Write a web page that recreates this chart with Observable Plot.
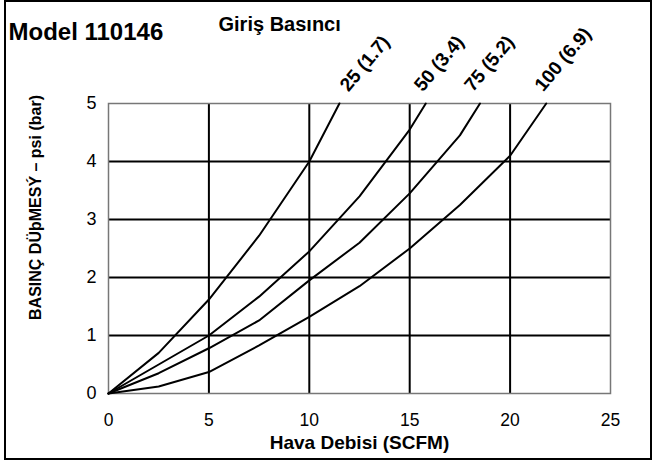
<!DOCTYPE html>
<html><head><meta charset="utf-8">
<script src="https://cdn.jsdelivr.net/npm/d3@7"></script>
<script src="https://cdn.jsdelivr.net/npm/@observablehq/plot@0.6"></script>
<style>
body{margin:0;background:#fff;}
#wrap{position:relative;width:655px;height:463px;}
#chart svg{display:block; font-family:"Liberation Sans", Arial, Helvetica, sans-serif;}
#border{position:absolute;left:4px;top:0;width:648px;height:460px;box-sizing:border-box;border:2.5px solid #000;pointer-events:none;}
</style></head><body><div id="wrap"><div id="chart"></div><div id="border"></div></div>
<script>
const seriesNames = ["25 (1.7)", "50 (3.4)", "75 (5.2)", "100 (6.9)"];
const flow25 = [0, 2.5, 5, 7.5, 10, 11.5];
const drop25 = [0, 0.7, 1.62, 2.72, 4.0, 5.0];
const flow50 = [0, 2.5, 5, 7.5, 10, 12.5, 15, 15.8];
const drop50 = [0, 0.5, 1.0, 1.67, 2.45, 3.4, 4.55, 5.0];
const flow75 = [0, 2.5, 5, 7.5, 10, 12.5, 15, 17.5, 18.5];
const drop75 = [0, 0.35, 0.78, 1.26, 1.95, 2.6, 3.45, 4.45, 5.0];
const flow100 = [0, 2.5, 5, 7.5, 10, 12.5, 15, 17.5, 20, 21.8];
const drop100 = [0, 0.12, 0.37, 0.83, 1.32, 1.85, 2.5, 3.25, 4.1, 5.0];
const labelX = [11.95, 15.65, 18.15, 21.65];
const xTicks = [0, 5, 10, 15, 20, 25];
const yTicks = [0, 1, 2, 3, 4, 5];
const xGrid = [5, 10, 15, 20];
const yGrid = [1, 2, 3, 4];
const titleText = "Model 110146";
const legendTitle = "Giriş Basıncı";
const xTitle = "Hava Debisi (SCFM)";
const yTitle = "BASINÇ DÜþMESÝ – psi (bar)";

const flows = [flow25, flow50, flow75, flow100];
const drops = [drop25, drop50, drop75, drop100];
const rows = [];
seriesNames.forEach((s, i) => flows[i].forEach((f, j) => rows.push({series: s, flow: f, drop: drops[i][j]})));
const labels = seriesNames.map((s, i) => ({series: s, x: labelX[i], y: 5}));

const font = "Liberation Sans, Arial, Helvetica, sans-serif";
const chart = Plot.plot({
  width: 655, height: 463,
  marginLeft: 108, marginRight: 45, marginTop: 103, marginBottom: 70,
  style: {fontFamily: font, background: "#fff", color: "#000"},
  x: {domain: [0, 25]},
  y: {domain: [0, 5]},
  marks: [
    Plot.ruleX(xGrid, {stroke: "#000", strokeWidth: 2}),
    Plot.ruleY(yGrid, {stroke: "#000", strokeWidth: 2}),
    Plot.frame({stroke: "#777", strokeWidth: 1.5}),
    Plot.line(rows, {x: "flow", y: "drop", z: "series", stroke: "#000", strokeWidth: 2}),
    Plot.text(labels, {x: "x", y: "y", text: "series", rotate: -50, textAnchor: "start", lineAnchor: "bottom", dy: -11, fontWeight: "bold", fontSize: 19, fill: "#000"}),
    Plot.axisX(xTicks, {tickSize: 0, tickPadding: 20, fontSize: 17.5, label: null, tickFormat: d => String(d)}),
    Plot.axisY(yTicks, {tickSize: 0, tickPadding: 12, fontSize: 18, label: null, tickFormat: d => String(d)}),
    Plot.text([xTitle], {frameAnchor: "bottom", textAnchor: "middle", lineAnchor: "middle", dx: 0, dy: 49, fontWeight: "bold", fontSize: 19, fill: "#000"}),
    Plot.text([yTitle], {frameAnchor: "left", textAnchor: "middle", lineAnchor: "middle", rotate: -90, dx: -73, dy: -41, fontWeight: "bold", fontSize: 16, fill: "#000"}),
    Plot.text([titleText], {frameAnchor: "top-left", textAnchor: "start", lineAnchor: "middle", dx: -100, dy: -71, fontWeight: "bold", fontSize: 24, fill: "#000"}),
    Plot.text([legendTitle], {frameAnchor: "top-left", textAnchor: "start", lineAnchor: "middle", dx: 110, dy: -79, fontWeight: "bold", fontSize: 20, fill: "#000"})
  ]
});
document.getElementById("chart").appendChild(chart);
</script></body></html>
